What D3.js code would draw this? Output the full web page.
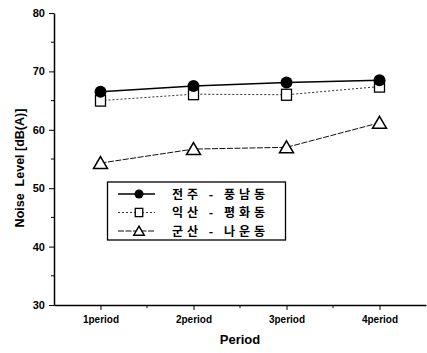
<!DOCTYPE html>
<html>
<head>
<meta charset="utf-8">
<script src="https://cdn.jsdelivr.net/npm/d3@7"></script>
<style>
  html, body { margin: 0; padding: 0; background: #fff; }
  svg { display: block; }
  .tick text { font-family: "Liberation Sans", Arial, sans-serif; font-weight: bold; }
</style>
</head>
<body>
<svg id="chart" width="427" height="353"></svg>
<script>
// Measured periods and the three monitoring sites
const periods = ["1period", "2period", "3period", "4period"];
const yTicks = [30, 40, 50, 60, 70, 80];
const seriesNames = ["전주 - 풍남동", "익산 - 평화동", "군산 - 나운동"];
const jeonju = [66.5, 67.5, 68.1, 68.5];
const iksan = [65.0, 66.1, 66.0, 67.4];
const gunsan = [54.3, 56.7, 57.0, 61.2];

const svg = d3.select("#chart");
const plotLeft = 54, plotRight = 426, plotTop = 13, plotBottom = 305;

const x = d3.scaleLinear().domain([0.5, 4.5]).range([plotLeft, plotRight]);
const y = d3.scaleLinear().domain([30, 80]).range([plotBottom, plotTop]);

// Y axis with minor ticks every 5
const yAxis = svg.append("g").attr("transform", `translate(${plotLeft},0)`)
  .call(d3.axisLeft(y).tickValues(yTicks).tickSize(5).tickPadding(4).tickSizeOuter(0));
yAxis.selectAll(".tick text").attr("font-size", 11);
svg.append("g").attr("transform", `translate(${plotLeft},0)`)
  .selectAll("line").data(d3.range(35, 80, 10)).join("line")
  .attr("x1", -3).attr("x2", 0).attr("y1", d => y(d)).attr("y2", d => y(d))
  .attr("stroke", "#000");

// X axis with minor ticks between periods
const xAxis = svg.append("g").attr("transform", `translate(0,${plotBottom})`)
  .call(d3.axisBottom(x).tickValues([1, 2, 3, 4]).tickFormat(d => periods[d - 1])
    .tickSize(5).tickPadding(6).tickSizeOuter(0));
xAxis.selectAll(".tick text").attr("font-size", 10);
svg.append("g").attr("transform", `translate(0,${plotBottom})`)
  .selectAll("line").data([1.5, 2.5, 3.5]).join("line")
  .attr("x1", d => x(d)).attr("x2", d => x(d)).attr("y1", 0).attr("y2", 3)
  .attr("stroke", "#000");
svg.selectAll(".domain").attr("stroke-width", 1.5);

// Axis titles
svg.append("text").attr("x", 240).attr("y", 344).attr("text-anchor", "middle")
  .attr("font-family", "Liberation Sans, Arial, sans-serif").attr("font-weight", "bold")
  .attr("font-size", 13).text("Period");
svg.append("text").attr("transform", "translate(24,168) rotate(-90)").attr("text-anchor", "middle")
  .attr("font-family", "Liberation Sans, Arial, sans-serif").attr("font-weight", "bold")
  .attr("font-size", 12.5).attr("xml:space", "preserve").text("Noise  Level [dB(A)]");

const line = d3.line().x((d, i) => x(i + 1)).y(d => y(d));
const styles = [
  { data: jeonju, width: 1.5, dash: null, color: "#000" },
  { data: iksan, width: 1, dash: "2,2", color: "#333" },
  { data: gunsan, width: 1, dash: "6,1.5", color: "#111" }
];

function marker(g, kind, cx, cy, s) {
  if (kind === 0) {
    g.append("circle").attr("cx", cx).attr("cy", cy).attr("r", 6 * s).attr("fill", "#000");
  } else if (kind === 1) {
    g.append("rect").attr("x", cx - 5 * s).attr("y", cy - 5.5 * s)
      .attr("width", 10 * s).attr("height", 11 * s)
      .attr("fill", "#fff").attr("stroke", "#000").attr("stroke-width", 1.3);
  } else {
    const w = 7 * s, h = 6.5 * s;
    g.append("path").attr("d", `M${cx},${cy - h}L${cx + w},${cy + h * 0.85}L${cx - w},${cy + h * 0.85}Z`)
      .attr("fill", "#fff").attr("stroke", "#000").attr("stroke-width", 1.5);
  }
}

// Lines
styles.forEach(s => {
  svg.append("path").datum(s.data).attr("d", line).attr("fill", "none")
    .attr("stroke", s.color).attr("stroke-width", s.width)
    .attr("stroke-dasharray", s.dash);
});
// Markers: squares first, then circles on top, then triangles
const mg = svg.append("g");
[1, 0, 2].forEach(k => {
  styles[k].data.forEach((v, i) => marker(mg, k, x(i + 1), y(v), 1));
});

// Legend
const lg = svg.append("g");
lg.append("rect").attr("x", 107.5).attr("y", 182).attr("width", 178).attr("height", 58)
  .attr("fill", "#fff").attr("stroke", "#000").attr("stroke-width", 1.3);
seriesNames.forEach((name, k) => {
  const ry = 194 + k * 18.5;
  lg.append("line").attr("x1", 118).attr("x2", 155).attr("y1", ry).attr("y2", ry)
    .attr("stroke", styles[k].color).attr("stroke-width", styles[k].width)
    .attr("stroke-dasharray", styles[k].dash);
  marker(lg, k, 139, ry, 0.75);
  lg.append("text").attr("x", 172).attr("y", ry + 4.5)
    .attr("font-family", "Noto Sans CJK KR, sans-serif").attr("font-weight", "bold")
    .attr("font-size", 12).attr("letter-spacing", 4).attr("xml:space", "preserve").text(name);
});
</script>
</body>
</html>
